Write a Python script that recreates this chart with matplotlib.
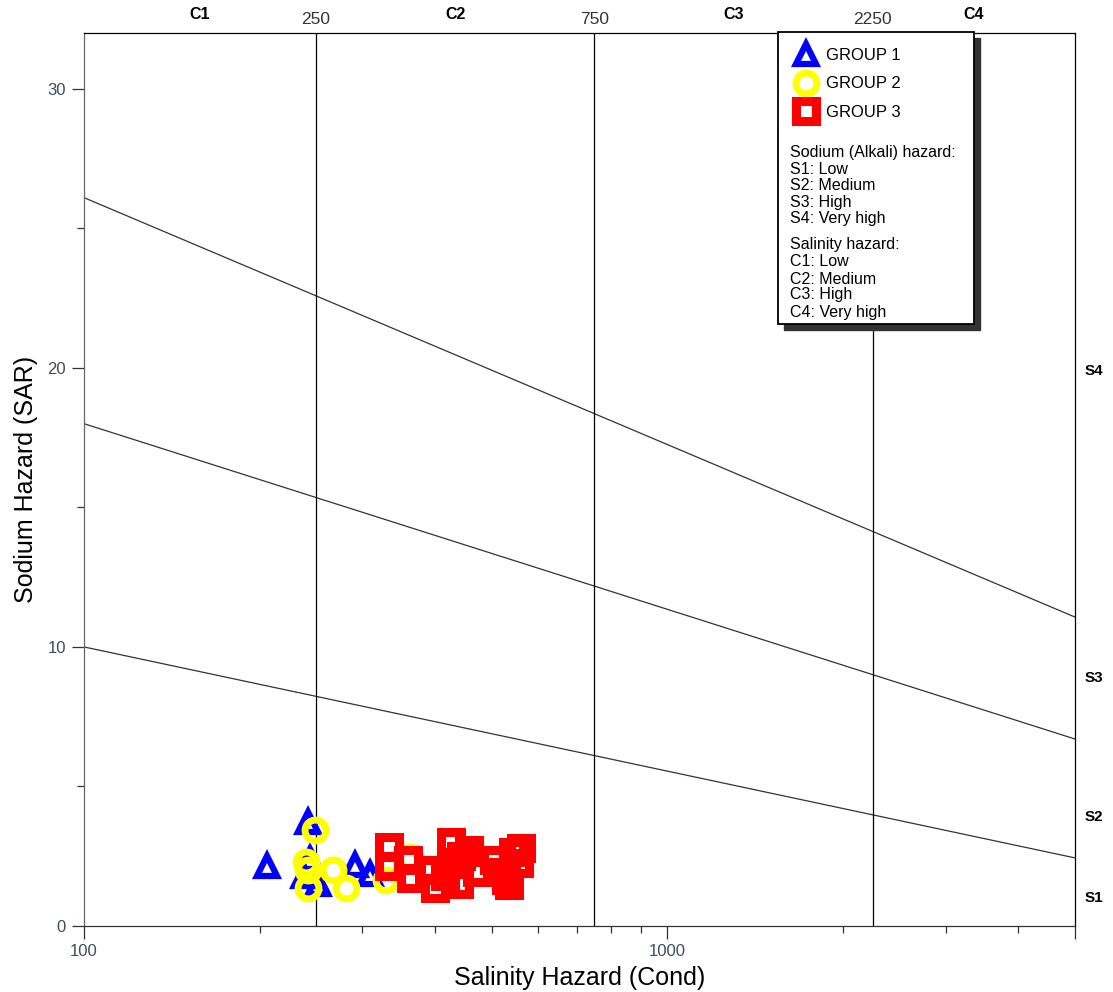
import matplotlib
matplotlib.use("Agg")
import matplotlib.pyplot as plt
from matplotlib.patches import Rectangle
from matplotlib.ticker import NullFormatter

plt.rcParams['font.family'] = ['Liberation Sans', 'DejaVu Sans']

# group 1 (triangles)
group1_cond = [206, 242, 244, 238, 252, 291, 309]
group1_sar = [2.15, 3.73, 2.4, 1.8, 1.5, 2.2, 1.85]
# group 2 (circles)
group2_cond = [249, 240, 242, 242, 267, 281, 329, 362]
group2_sar = [3.44, 2.3, 2.0, 1.36, 2.0, 1.36, 1.65, 2.47]
# group 3 (squares)
group3_cond = [334, 334, 364, 359, 391, 400, 425, 431, 440, 458,
               472, 443, 515, 528, 544, 557, 536, 562, 505, 415]
group3_sar = [2.83, 2.15, 1.72, 2.37, 2.0, 1.36, 3.0, 2.29, 1.5, 2.72,
              1.94, 2.5, 1.94, 1.65, 2.65, 2.26, 1.47, 2.8, 2.37, 1.79]

# salinity class limits and labels
cond_bounds = [250, 750, 2250]
c_names = ['C1', 'C2', 'C3', 'C4']
c_mid = [158, 433, 1299, 3354]

# sodium hazard boundary lines (SAR at 100 and at 5000)
sar_at_100 = [10.0, 18.0, 26.1]
sar_at_5000 = [2.44, 6.7, 11.07]
s_names = ['S1', 'S2', 'S3', 'S4']
s_pos = [1.0, 3.9, 8.9, 19.9]

legend_lines = ['Sodium (Alkali) hazard:', 'S1: Low', 'S2: Medium', 'S3: High', 'S4: Very high',
                'Salinity hazard:', 'C1: Low', 'C2: Medium', 'C3: High', 'C4: Very high']
legend_y = [153, 169, 186, 203, 219, 245, 262, 279, 295, 312]

W, H = 1113, 992
fig = plt.figure(figsize=(W / 100, H / 100), dpi=100)
ax = fig.add_axes([84 / W, 66 / H, 991 / W, 893 / H])
ax.set_xscale('log')
ax.set_xlim(100, 5000)
ax.set_ylim(0, 32)

# boundary lines
for a, b in zip(sar_at_100, sar_at_5000):
    ax.plot([100, 5000], [a, b], color='#333333', lw=0.9, zorder=1)
ax.vlines(cond_bounds, 0, 32, color='black', lw=0.9, zorder=1)

ax.plot(group1_cond, group1_sar, ls='none', marker='^', ms=15, mew=4.5,
        mfc='none', mec='#0000ff', label='GROUP 1', zorder=3)
ax.plot(group2_cond, group2_sar, ls='none', marker='o', ms=15, mew=5,
        mfc='none', mec='#ffff00', label='GROUP 2', zorder=4)
ax.plot(group3_cond, group3_sar, ls='none', marker='s', ms=15, mew=6.5,
        mfc='none', mec='#ff0000', label='GROUP 3', zorder=5)

# ticks
ax.set_xticks([100, 1000, 5000])
ax.set_xticklabels(['100', '1000', ''])
ax.set_xticks([200, 300, 400, 500, 600, 700, 800, 900, 2000, 3000, 4000], minor=True)
ax.xaxis.set_minor_formatter(NullFormatter())
ax.set_yticks([0, 10, 20, 30])
ax.set_yticks([5, 15, 25], minor=True)
ax.tick_params(which='major', length=9, width=0.9, labelsize=12, colors='#333333', pad=4)
ax.tick_params(which='minor', length=5, width=0.9, colors='#333333')
ax.tick_params(axis='x', labelcolor='#3f4c5a')
ax.tick_params(axis='y', labelcolor='#3f4c5a')
ax.spines['left'].set_color('#666666')
ax.spines['bottom'].set_color('#333333')
for s in ['top', 'right']:
    ax.spines[s].set_color('black')
for s in ax.spines.values():
    s.set_linewidth(0.9)

ax.set_xlabel('Salinity Hazard (Cond)', fontsize=18, labelpad=5)
ax.set_ylabel('Sodium Hazard (SAR)', fontsize=18, labelpad=7)

# top labels
xt = ax.get_xaxis_transform()
for name, m in zip(c_names, c_mid):
    ax.text(m, 1 + 19 / 893, name, transform=xt, ha='center', va='center',
            fontsize=11.5, fontweight='bold')
for b in cond_bounds:
    ax.text(b, 1 + 14 / 893, str(b), transform=xt, ha='center', va='center',
            fontsize=12.5, color='#333333')

# right labels
yt = ax.get_yaxis_transform()
for name, p in zip(s_names, s_pos):
    ax.text(1 + 10 / 991, p, name, transform=yt, ha='left', va='center',
            fontsize=11, fontweight='bold')

# legend box with shadow
bx, by, bw, bh = 778, 324, 196, 292
fig.patches.append(Rectangle(((bx + 6) / W, 1 - (by + 6) / H), bw / W, bh / H,
                             transform=fig.transFigure, facecolor='#333333',
                             edgecolor='#333333', zorder=1))
fig.patches.append(Rectangle((bx / W, 1 - by / H), bw / W, bh / H,
                             transform=fig.transFigure, facecolor='white',
                             edgecolor='black', lw=1.3, zorder=2))
h, l = ax.get_legend_handles_labels()
fig.legend(h, l, loc='upper left', bbox_to_anchor=(794 / W, 1 - 48 / H), frameon=False,
           fontsize=12, labelspacing=0.8, handlelength=1.4, handletextpad=0.54,
           borderaxespad=0, borderpad=0)
for t, y in zip(legend_lines, legend_y):
    fig.text(790 / W, 1 - y / H, t, ha='left', va='center', fontsize=11.5, zorder=3)

fig.savefig('out.png', dpi=100)
